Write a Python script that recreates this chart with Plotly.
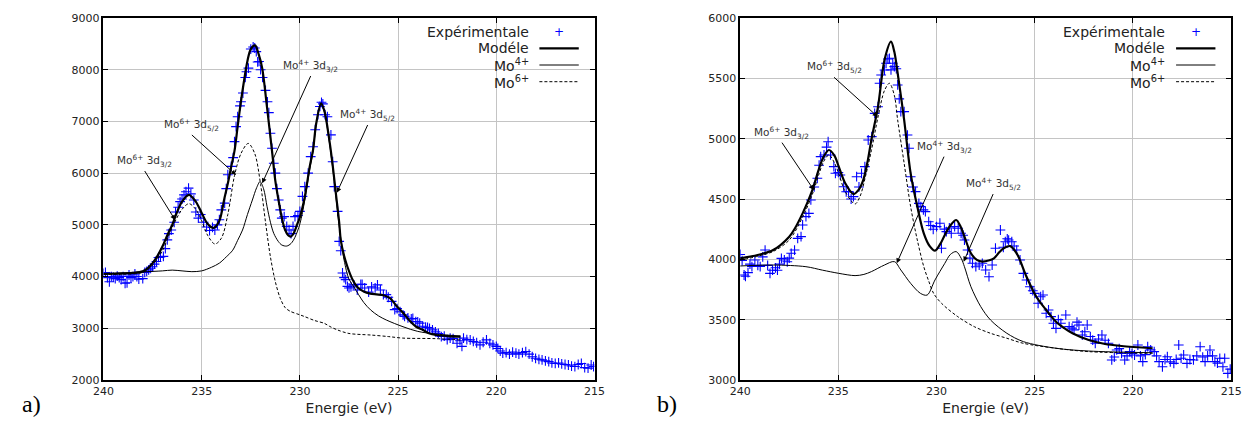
import plotly.graph_objects as go
from plotly.subplots import make_subplots

W, H = 1252, 425

# ---------------- Panel a) data ----------------
a_exp_x = [240.0, 239.9, 239.8, 239.7, 239.6, 239.5, 239.4, 239.3, 239.2, 239.1, 239.0, 238.9, 238.8, 238.7,
           238.6, 238.5, 238.4, 238.3, 238.2, 238.0, 237.9, 237.8, 237.7, 237.6, 237.5, 237.4, 237.3, 237.2,
           237.1, 236.95, 236.85, 236.75, 236.67, 236.55, 236.4, 236.33, 236.2, 236.1, 236.0, 235.9, 235.8,
           235.67, 235.55, 235.4, 235.3, 235.17, 235.05, 234.9, 234.75, 234.6, 234.45, 234.33, 234.2, 234.1,
           234.0, 233.83, 233.75, 233.67, 233.5, 233.4, 233.33, 233.25, 233.17, 233.05, 233.0, 232.9, 232.78,
           232.72, 232.62, 232.5, 232.38, 232.3, 232.22, 232.15, 232.08, 232.0, 231.9, 231.75, 231.65, 231.58,
           231.5, 231.42, 231.33, 231.25, 231.17, 231.08, 231.0, 230.92, 230.8, 230.67, 230.55, 230.45, 230.35,
           230.25, 230.1, 230.0, 229.87, 229.75, 229.58, 229.45, 229.33, 229.22, 229.08, 228.98, 228.9, 228.83,
           228.72, 228.6, 228.42, 228.33, 228.25, 228.08, 228.0, 227.92, 227.83, 227.75, 227.67, 227.58, 227.5,
           227.4, 227.25, 227.08, 226.9, 226.83, 226.7, 226.5, 226.35, 226.17, 226.05, 225.9, 225.75, 225.6,
           225.5, 225.33, 225.17, 225.05, 224.9, 224.75, 224.67, 224.5, 224.33, 224.25, 224.1, 224.0, 223.9,
           223.75, 223.6, 223.5, 223.4, 223.25, 223.1, 222.95, 222.8, 222.65, 222.5, 222.35, 222.2, 222.0,
           221.85, 221.75, 221.67, 221.5, 221.33, 221.17, 221.0, 220.83, 220.67, 220.5, 220.33, 220.17, 220.0,
           219.92, 219.8, 219.67, 219.5, 219.33, 219.17, 219.0, 218.85, 218.67, 218.5, 218.33, 218.17, 218.0,
           217.83, 217.67, 217.5, 217.33, 217.17, 217.0, 216.83, 216.67, 216.5, 216.33, 216.17, 216.0, 215.83,
           215.67, 215.5, 215.33, 215.17, 215.05]
a_exp_y = [4060, 4080, 3980, 3900, 4000, 3990, 3960, 4010, 3980, 3940, 4000, 3870, 3880, 4030,
           3980, 4000, 4050, 4000, 3950, 3960, 4080, 4100, 4130, 4160, 4190, 4240, 4290, 4370,
           4380, 4390, 4540, 4710, 4830, 4900, 5050, 5250, 5340, 5450, 5500, 5580, 5640,
           5710, 5600, 5480, 5250, 5130, 5200, 5050, 4960, 4890, 4950, 4900, 5000, 5100,
           5290, 5420, 5700, 5970, 6130, 6300, 6610, 6900, 7090, 7300, 7380, 7550, 7850,
           7960, 8030, 8400, 8440, 8420, 8350, 8150, 8160, 8000, 7850, 7600, 7380, 7170,
           6770, 6480, 6190, 6000, 5700, 5480, 5290, 5130, 5160, 4970, 4900, 4830, 4970,
           5160, 5180, 5260, 5550, 5740, 6000, 6320, 6510, 6840, 7130, 7290, 7370, 7340,
           7130, 7090, 6740, 6220, 5740, 5260, 4680, 4500, 4070, 3980, 3940, 3810, 3780,
           3800, 3840, 3740, 3850, 3850, 3780, 3700, 3800, 3780, 3840, 3740, 3650, 3650,
           3600, 3520, 3360, 3380, 3320, 3260, 3230, 3200, 3180, 3190, 3130, 3125, 3100,
           3040, 3020, 3015, 3000, 2970, 2930, 2900, 2840, 2850, 2780, 2810, 2800, 2710,
           2760, 2650, 2810, 2780, 2775, 2745, 2720, 2680, 2730, 2775, 2710, 2680, 2650,
           2610, 2560, 2520, 2530, 2500, 2540, 2520, 2500, 2530, 2550, 2500, 2450, 2420,
           2400, 2390, 2370, 2355, 2330, 2320, 2330, 2310, 2300, 2290, 2270, 2260, 2300,
           2320, 2240, 2230, 2290, 2260]

a_model_x = [240, 239.5, 239, 238.5, 238, 237.75, 237.5, 237.25, 237, 236.75, 236.5, 236.25, 236, 235.65,
             235.3, 235, 234.7, 234.4, 234.1, 233.85, 233.67, 233.5, 233.33, 233.17, 233.0, 232.83, 232.67,
             232.5, 232.28, 232.1, 231.92, 231.67, 231.42, 231.25, 231.08, 230.9, 230.75, 230.6, 230.45,
             230.3, 230.15, 230.0, 229.75, 229.5, 229.33, 229.17, 228.92, 228.75, 228.5, 228.33, 228.17,
             228.0, 227.92, 227.75, 227.58, 227.33, 227.08, 226.75, 226.42, 226.1, 225.75, 225.4, 225.1,
             224.75, 224.4, 224.08, 223.75, 223.4, 223.08, 222.5, 221.83]
a_model_y = [4050, 4055, 4060, 4070, 4100, 4160, 4260, 4400, 4580, 4800, 5000, 5250, 5450, 5580,
             5450, 5230, 5020, 4940, 5080, 5500, 5800, 6120, 6430, 6900, 7390, 7820, 8170,
             8400, 8470, 8300, 8030, 7260, 6430, 5850, 5460, 5100, 4900, 4800, 4775,
             4850, 5000, 5150, 5545, 6125, 6450, 6960, 7350, 7200, 6640, 6150, 5615,
             5050, 4710, 4400, 4190, 3950, 3800, 3710, 3670, 3655, 3640, 3580, 3440,
             3300, 3140, 3030, 2970, 2900, 2870, 2850, 2840]

a_mo4_x = [240, 239, 238, 237, 236.5, 236, 235.5, 235, 234.5, 234.1, 233.75, 233.42, 233.17, 232.92,
           232.67, 232.42, 232.2, 232.03, 231.85, 231.67, 231.5, 231.33, 231.1, 230.92, 230.67, 230.45,
           230.25, 230.0, 229.75, 229.5, 229.33, 229.17, 228.92, 228.75, 228.5, 228.33, 228.17, 228.0,
           227.75, 227.5, 227.25, 226.75, 226.4, 226.0, 225.6, 224.75, 224.0, 223.1, 221.83]
a_mo4_y = [4060, 4070, 4090, 4110, 4125, 4110, 4095, 4110, 4180, 4260, 4380, 4510, 4700, 4900,
           5200, 5480, 5720, 5835, 5700, 5350, 5050, 4835, 4680, 4610, 4590, 4640,
           4760, 5020, 5480, 6080, 6420, 6940, 7330, 7180, 6600, 6100, 5560, 4980,
           4320, 3950, 3800, 3500, 3355, 3240, 3160, 3030, 2940, 2890, 2850]

a_mo6_x = [240, 239, 238, 237.5, 237, 236.5, 236, 235.65, 235.3, 235, 234.7, 234.33, 234.0, 233.67,
           233.33, 233.0, 232.63, 232.3, 232.0, 231.75, 231.5, 231.25, 231.0, 230.75, 230.5, 230.0,
           229.75, 229.25, 228.75, 228.5, 228.1, 227.5, 226.4, 225.5, 224.75, 223.1, 221.83]
a_mo6_y = [4040, 4045, 4080, 4220, 4500, 4950, 5300, 5410, 5300, 5080, 4800, 4630, 4740, 5200,
           5950, 6380, 6575, 6380, 5780, 5050, 4380, 3900, 3580, 3400, 3330, 3260,
           3225, 3150, 3095, 3040, 2970, 2900, 2870, 2840, 2810, 2800, 2775]

# ---------------- Panel b) data ----------------
b_exp_x = [240.0, 239.9, 239.8, 239.73, 239.6, 239.5, 239.4, 239.25, 239.1, 238.98, 238.85, 238.73, 238.6,
           238.48, 238.35, 238.2, 238.1, 238.0, 237.9, 237.75, 237.6, 237.5, 237.4, 237.23, 237.07, 236.9,
           236.82, 236.65, 236.5, 236.4, 236.23, 236.07, 235.98, 235.9, 235.73, 235.6, 235.52, 235.4, 235.23,
           235.15, 235.0, 234.9, 234.73, 234.6, 234.48, 234.35, 234.23, 234.07, 233.95, 233.82, 233.65,
           233.48, 233.3, 233.15, 232.98, 232.9, 232.82, 232.65, 232.57, 232.48, 232.4, 232.32, 232.23,
           232.15, 232.05, 231.98, 231.9, 231.82, 231.65, 231.48, 231.4, 231.32, 231.2, 231.07, 230.9,
           230.8, 230.67, 230.57, 230.4, 230.3, 230.17, 230.0, 229.83, 229.75, 229.6, 229.5, 229.35,
           229.25, 229.08, 228.9, 228.75, 228.65, 228.58, 228.42, 228.3, 228.17, 228.0, 227.83, 227.67,
           227.5, 227.33, 227.17, 227.0, 226.75, 226.6, 226.5, 226.4, 226.33, 226.17, 226.05, 225.92,
           225.75, 225.58, 225.42, 225.25, 225.1, 225.0, 224.83, 224.7, 224.58, 224.42, 224.3, 224.17,
           224.05, 223.92, 223.8, 223.67, 223.42, 223.25, 223.1, 223.0, 222.85, 222.75, 222.58, 222.45,
           222.33, 222.17, 222.05, 221.92, 221.75, 221.58, 221.42, 221.25, 221.08, 220.95, 220.83, 220.7,
           220.58, 220.42, 220.3, 220.17, 220.05, 219.92, 219.75, 219.62, 219.5, 219.37, 219.25, 219.1,
           218.92, 218.8, 218.67, 218.5, 218.37, 218.25, 218.1, 217.92, 217.8, 217.67, 217.55, 217.42,
           217.25, 217.1, 216.92, 216.75, 216.58, 216.45, 216.33, 216.2, 216.08, 215.95, 215.83, 215.7,
           215.58, 215.42, 215.33, 215.17, 215.05]
b_exp_y = [4040, 3990, 3870, 3860, 3890, 3960, 3940, 3995, 3950, 3940, 4020, 4077, 3950,
           3884, 3910, 3930, 3910, 3960, 4008, 3995, 3980, 4010, 4050, 4077, 4174, 4188,
           4285, 4354, 4381, 4492, 4600, 4672, 4780, 4851, 4865, 4930, 4975, 4865, 4768,
           4713, 4720, 4699, 4602, 4560, 4561, 4500, 4520, 4685, 4600, 4713, 4768,
           4989, 5017, 5210, 5265, 5459, 5528, 5569, 5625, 5660, 5666, 5570, 5625,
           5597, 5580, 5445, 5330, 5224, 5224, 5030, 4920, 4685, 4600, 4561, 4464,
           4437, 4410, 4395, 4312, 4280, 4249, 4271, 4299, 4092, 4250, 4230, 4260,
           4216, 4271, 4257, 4216, 4200, 4160, 4077, 4010, 3967, 3939, 3953, 3967,
           3912, 3856, 3953, 4092, 4243, 4100, 4146, 4170, 4160, 4146, 4110, 4077,
           3995, 3884, 3829, 3773, 3740, 3718, 3636, 3690, 3704, 3553, 3580, 3525,
           3470, 3428, 3500, 3470, 3539, 3442, 3430, 3415, 3480, 3456, 3373, 3400,
           3456, 3360, 3330, 3304, 3340, 3373, 3330, 3304, 3166, 3190, 3249, 3260,
           3221, 3166, 3200, 3235, 3220, 3207, 3290, 3200, 3152, 3210, 3276, 3250,
           3235, 3200, 3152, 3110, 3170, 3193, 3150, 3138, 3170, 3290, 3180, 3207,
           3138, 3170, 3166, 3200, 3276, 3190, 3152, 3200, 3249, 3200, 3152, 3140,
           3180, 3110, 3180, 3055, 3090]

b_model_x = [240, 239, 238.32, 237.5, 237.2, 236.82, 236.55, 236.32, 235.98, 235.75, 235.48, 235.2, 234.98,
             234.65, 234.23, 233.95, 233.73, 233.5, 233.32, 232.98, 232.65, 232.32, 232.15, 231.98, 231.65,
             231.32, 230.98, 230.65, 230.35, 230.08, 229.8, 229.58, 229.3, 229.0, 228.8, 228.58, 228.25,
             227.95, 227.67, 227.35, 227.08, 226.8, 226.58, 226.25, 226.05, 225.83, 225.42, 224.92, 224.42,
             223.92, 223.5, 223.08, 222.25, 221.42, 220.58, 219.0]
b_model_y = [4008, 4040, 4077, 4188, 4260, 4381, 4480, 4575, 4754, 4850, 4906, 4860, 4768,
             4630, 4541, 4580, 4658, 4820, 4989, 5265, 5652, 5804, 5720, 5542, 5155,
             4713, 4437, 4216, 4110, 4072, 4130, 4202, 4280, 4326, 4280, 4188, 4050,
             3995, 3981, 3990, 4008, 4060, 4092, 4110, 4080, 4022, 3856, 3690, 3580,
             3483, 3430, 3387, 3331, 3298, 3282, 3263]

b_mo4_x = [240, 238.3, 236.65, 235.8, 234.98, 234.15, 233.7, 233.32, 232.65, 232.15, 231.82, 231.32,
           230.82, 230.48, 230.08, 229.58, 229.3, 229.0, 228.75, 228.58, 228.25, 227.75, 227.25, 226.42,
           225.58, 223.92, 222.25, 219.0]
b_mo4_y = [3945, 3953, 3939, 3910, 3884, 3865, 3875, 3898, 3953, 3981, 3912, 3801,
           3718, 3704, 3829, 3967, 4040, 4064, 4010, 3939, 3773, 3608, 3497, 3387,
           3318, 3263, 3240, 3226]

b_mo6_x = [240, 239, 238.32, 237.5, 236.82, 236.32, 235.98, 235.75, 235.48, 235.2, 234.98, 234.65, 234.15,
           233.9, 233.6, 233.32, 232.98, 232.65, 232.4, 232.15, 231.98, 231.65, 231.32, 230.98, 230.65,
           230.4, 230.15, 229.75, 228.92, 228.08, 227.25, 226.42, 225.58, 223.92, 222.25, 219.0]
b_mo6_y = [3992, 4030, 4065, 4160, 4350, 4540, 4710, 4810, 4865, 4800, 4710, 4560, 4459,
           4520, 4700, 4900, 5180, 5400, 5459, 5360, 5155, 4796, 4437, 4160, 3939,
           3820, 3718, 3636, 3525, 3442, 3387, 3346, 3304, 3263, 3235, 3221]

legend_labels = ["Expérimentale", "Modéle", "Mo<sup>4+</sup>", "Mo<sup>6+</sup>"]
x_ticks = [240, 235, 230, 225, 220, 215]
a_y_range = [2000, 9000]
b_y_range = [3000, 6000]

# annotation labels: (text, tail_x, tail_y, head_x, head_y) in data units
a_labels = [
    ("Mo<sup>6+</sup> 3d<sub>3/2</sub>", 237.9, 6041, 236.35, 5094),
    ("Mo<sup>6+</sup> 3d<sub>5/2</sub>", 235.5, 6738, 233.25, 5964),
    ("Mo<sup>4+</sup> 3d<sub>3/2</sub>", 229.45, 7878, 231.92, 5803),
    ("Mo<sup>4+</sup> 3d<sub>5/2</sub>", 226.55, 6931, 228.12, 5622),
]
b_labels = [
    ("Mo<sup>6+</sup> 3d<sub>3/2</sub>", 237.87, 4967, 236.25, 4575),
    ("Mo<sup>6+</sup> 3d<sub>5/2</sub>", 235.22, 5509, 233.0, 5182),
    ("Mo<sup>4+</sup> 3d<sub>3/2</sub>", 229.62, 4851, 232.03, 3967),
    ("Mo<sup>4+</sup> 3d<sub>5/2</sub>", 227.12, 4541, 228.62, 3981),
]

fig = make_subplots(rows=1, cols=2, horizontal_spacing=0.05)

FONT = "DejaVu Sans"
blue = "#0000ff"


def add_panel(col, ex, ey, mx, my, m4x, m4y, m6x, m6y):
    fig.add_trace(go.Scatter(x=ex, y=ey, mode="markers", showlegend=False,
                             marker=dict(symbol="cross-thin", size=7,
                                         line=dict(width=1.1, color=blue), color=blue)),
                  row=1, col=col)
    fig.add_trace(go.Scatter(x=mx, y=my, mode="lines", showlegend=False,
                             line=dict(color="black", width=2.2, shape="spline", smoothing=0.9)),
                  row=1, col=col)
    fig.add_trace(go.Scatter(x=m4x, y=m4y, mode="lines", showlegend=False,
                             line=dict(color="black", width=1, shape="spline", smoothing=0.9)),
                  row=1, col=col)
    fig.add_trace(go.Scatter(x=m6x, y=m6y, mode="lines", showlegend=False,
                             line=dict(color="black", width=1, dash="3px,2px", shape="spline", smoothing=0.9)),
                  row=1, col=col)


add_panel(1, a_exp_x, a_exp_y, a_model_x, a_model_y, a_mo4_x, a_mo4_y, a_mo6_x, a_mo6_y)
add_panel(2, b_exp_x, b_exp_y, b_model_x, b_model_y, b_mo4_x, b_mo4_y, b_mo6_x, b_mo6_y)

axis_common = dict(showgrid=True, gridcolor="#c4c4c4", gridwidth=1, zeroline=False,
                   showline=True, linecolor="black", linewidth=1.5, mirror="ticks",
                   ticks="inside", ticklen=5, tickcolor="black", tickwidth=1,
                   tickfont=dict(family=FONT, size=11, color="#222"))

fig.update_xaxes(**axis_common, range=[240, 215], tickvals=x_ticks,
                 title=dict(text="Energie (eV)", font=dict(family=FONT, size=14, color="#222"), standoff=6))
fig.update_yaxes(**axis_common)
fig.update_yaxes(range=a_y_range, dtick=1000, row=1, col=1)
fig.update_yaxes(range=b_y_range, dtick=500, row=1, col=2)

fig.update_layout(
    xaxis=dict(domain=[95 / W, 594 / W]),
    xaxis2=dict(domain=[742 / W, 1241 / W]),
)

annotations = []
shapes = []


def px2paper(px, py):
    return px / W, (380 - py) / 362


def legend(right_px, sample_l, sample_r):
    rows = [31.7, 48.3, 65, 81.7]
    x0, y0 = px2paper(right_px - 124, 90)
    x1, y1 = px2paper(sample_r + 8, 19)
    shapes.append(dict(type="rect", xref="paper", yref="paper", x0=x0, x1=x1, y0=y0, y1=y1,
                       fillcolor="white", line=dict(width=0), layer="between"))
    for lab, py in zip(legend_labels, rows):
        tx, ty = px2paper(right_px, py)
        annotations.append(dict(text=lab, x=tx, y=ty, xref="paper", yref="paper", xanchor="right",
                                yanchor="middle", showarrow=False,
                                font=dict(family=FONT, size=14, color="#222")))
    cx, cy = px2paper((sample_l + sample_r) / 2, rows[0])
    annotations.append(dict(text="+", x=cx, y=cy, xref="paper", yref="paper", xanchor="center",
                            yanchor="middle", showarrow=False,
                            font=dict(family=FONT, size=12, color=blue)))
    styles = [dict(width=2.2), dict(width=1), dict(width=1, dash="3px,2px")]
    for st, py in zip(styles, rows[1:]):
        xa, ya = px2paper(sample_l, py)
        xb, _ = px2paper(sample_r, py)
        shapes.append(dict(type="line", xref="paper", yref="paper", x0=xa, x1=xb, y0=ya, y1=ya,
                           line=dict(color="black", **st)))


legend(529, 538, 578)
legend(1176, 1185, 1225)


def add_labels(labels, xr, yr):
    for text, ax_, ay_, hx, hy in labels:
        annotations.append(dict(text=text, x=hx, y=hy, ax=ax_, ay=ay_, xref=xr, yref=yr,
                                axref=xr, ayref=yr, showarrow=True, arrowhead=2,
                                arrowsize=1, arrowwidth=1, arrowcolor="black", standoff=0,
                                startstandoff=0, xanchor="center", yanchor="bottom",
                                font=dict(family=FONT, size=10.5, color="#333")))


add_labels(a_labels, "x", "y")
add_labels(b_labels, "x2", "y2")

for lab, px in (("a)", 22), ("b)", 668)):
    xx, yy = px2paper(px, 404)
    annotations.append(dict(text=lab, x=xx, y=yy, xref="paper", yref="paper", showarrow=False,
                            xanchor="center", yanchor="middle",
                            font=dict(family="Liberation Serif", size=24, color="black")))

fig.update_layout(
    width=W, height=H,
    margin=dict(l=0, r=0, t=18, b=45),
    paper_bgcolor="white", plot_bgcolor="white",
    showlegend=False,
    annotations=annotations,
    shapes=shapes,
)

fig.write_html("out.html", config={"displayModeBar": False},
               post_script="document.body.style.margin='0px';")
